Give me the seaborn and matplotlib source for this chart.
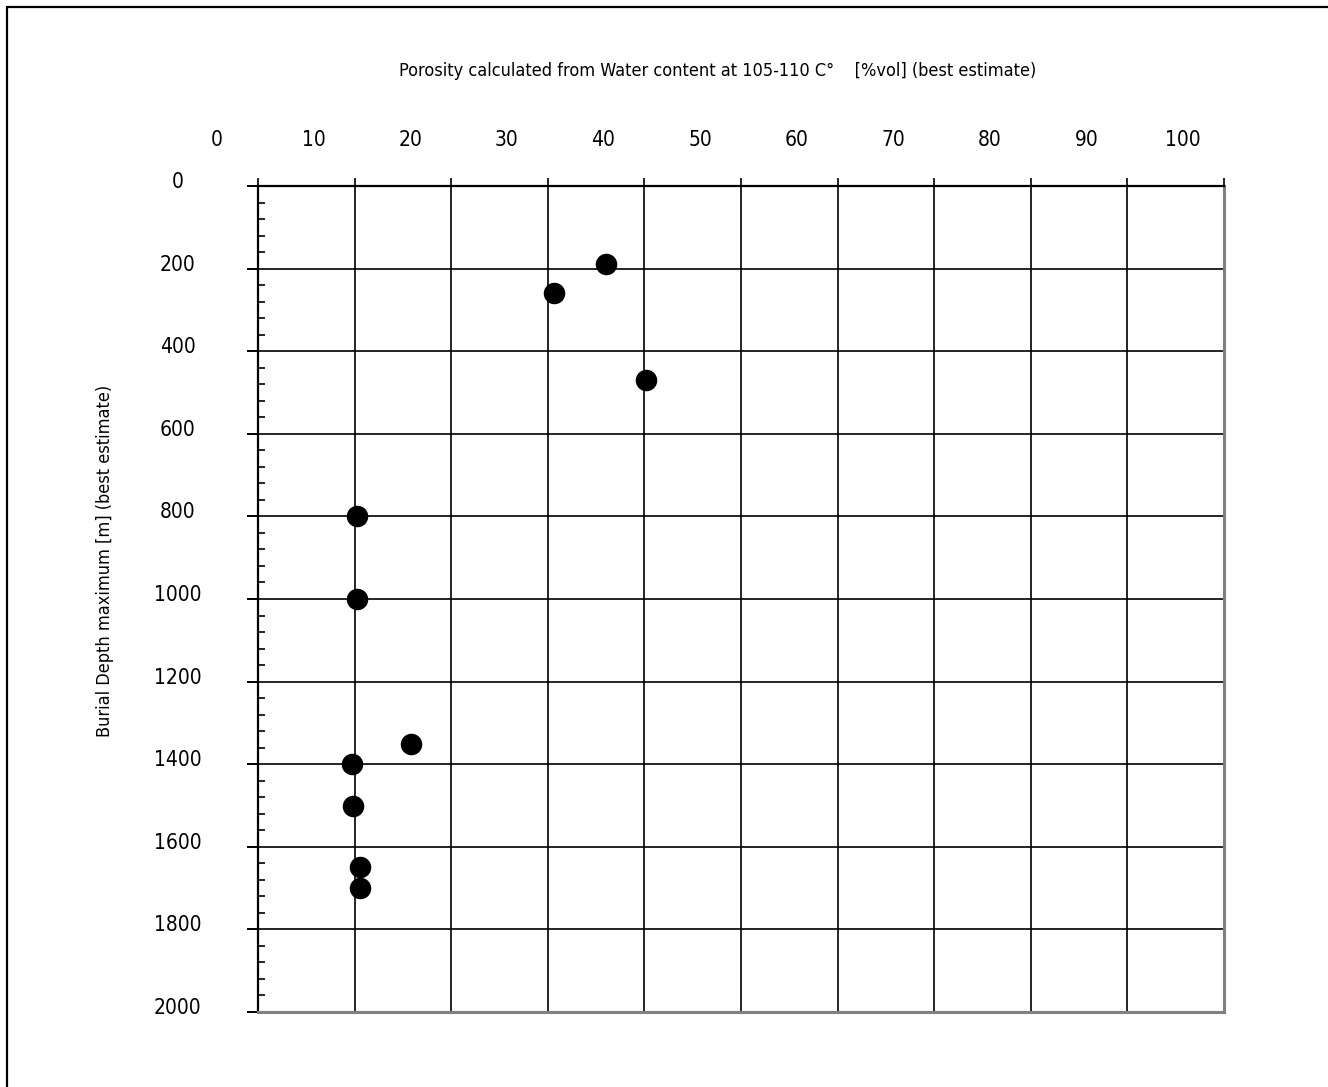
import matplotlib
matplotlib.use("Agg")
import matplotlib.pyplot as plt
from matplotlib.lines import Line2D
from matplotlib.transforms import ScaledTranslation
from matplotlib.ticker import MultipleLocator
import seaborn as sns
import pandas as pd

# Data
porosity = [36.0, 30.6, 40.2, 10.2, 10.2, 15.8, 9.7, 9.8, 10.6, 10.6]
depth = [190, 260, 470, 800, 1000, 1350, 1400, 1500, 1650, 1700]
x_ticks = [0, 10, 20, 30, 40, 50, 60, 70, 80, 90, 100]
y_ticks = [0, 200, 400, 600, 800, 1000, 1200, 1400, 1600, 1800, 2000]
title = "Porosity calculated from Water content at 105-110 C\u00b0    [%vol] (best estimate)"
ylabel = "Burial Depth maximum [m] (best estimate)"

df = pd.DataFrame({"porosity": porosity, "depth": depth})

sns.set_style("white")
plt.rcParams["font.family"] = ["DejaVu Sans"]
plt.rcParams["font.stretch"] = "condensed"
plt.rcParams["text.color"] = "black"
plt.rcParams["xtick.color"] = "black"
plt.rcParams["ytick.color"] = "black"

fig = plt.figure(figsize=(13.28, 10.87), dpi=100)
ax = fig.add_axes([258 / 1328, 1 - 1012 / 1087, 966 / 1328, 826 / 1087])

ax.set_xlim(0, 100)
ax.set_ylim(2000, 0)
ax.set_xticks(x_ticks)
ax.set_yticks(y_ticks)
ax.yaxis.set_minor_locator(MultipleLocator(40))

ax.grid(True, which="major", color="black", linewidth=1.2)
ax.set_axisbelow(True)

sns.scatterplot(data=df, x="porosity", y="depth", ax=ax, color="black",
                s=240, edgecolor="black", linewidth=0, zorder=3, clip_on=False)
ax.set_xlabel("")
ax.set_ylabel("")

for side in ["top", "left"]:
    ax.spines[side].set_color("black")
    ax.spines[side].set_linewidth(1.6)
for side in ["right", "bottom"]:
    ax.spines[side].set_color("#808080")
    ax.spines[side].set_linewidth(2.2)
    ax.spines[side].set_visible(True)

ax.xaxis.tick_top()
ax.tick_params(axis="x", which="major", direction="out", length=6, width=1.2,
               color="black", labelsize=15, pad=20, bottom=False, top=True)
ax.tick_params(axis="y", which="major", direction="out", length=8, width=1.4,
               color="black", labelsize=15, pad=50, left=True, right=False)
ax.tick_params(axis="y", which="minor", direction="in", length=5, width=1.2,
               color="black", left=True, right=False)

dx = ScaledTranslation(-41 / 100, 0, fig.dpi_scale_trans)
for lab in ax.get_xticklabels():
    lab.set_transform(lab.get_transform() + dx)
dy = ScaledTranslation(0, 6 / 100, fig.dpi_scale_trans)
for lab in ax.get_yticklabels():
    lab.set_horizontalalignment("center")
    lab.set_transform(lab.get_transform() + dy)

fig.text(718 / 1328, 1 - 71 / 1087, title, ha="center", va="center", fontsize=13)
fig.text(105 / 1328, 1 - 561 / 1087, ylabel, ha="center", va="center",
         rotation=90, fontsize=13)

fig.add_artist(Line2D([6.5 / 1328, 1.0], [1 - 6.5 / 1087, 1 - 6.5 / 1087],
                      transform=fig.transFigure, color="black", linewidth=1.6))
fig.add_artist(Line2D([6.5 / 1328, 6.5 / 1328], [0.0, 1 - 6.5 / 1087],
                      transform=fig.transFigure, color="black", linewidth=1.6))

fig.savefig("out.png", dpi=100)
